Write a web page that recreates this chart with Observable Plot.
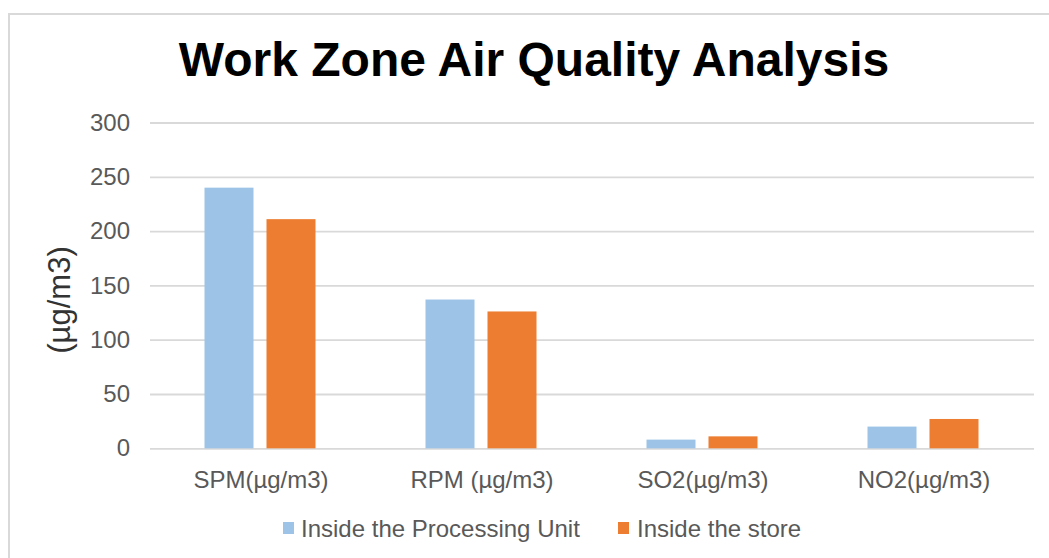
<!DOCTYPE html>
<html>
<head>
<meta charset="utf-8">
<script src="https://cdn.jsdelivr.net/npm/d3@7"></script>
<script src="https://cdn.jsdelivr.net/npm/@observablehq/plot@0.6"></script>
<style>
  html, body { margin: 0; padding: 0; background: #fff; overflow: hidden; }
  body { width: 1049px; height: 558px; position: relative; font-family: "Liberation Sans", Arial, sans-serif; }
  #frame { position: absolute; left: 8px; top: 13px; width: 1200px; height: 700px;
           border-top: 2px solid #d9d9d9; border-left: 2px solid #d9d9d9; box-sizing: border-box; }
  #title { position: absolute; left: 0; width: 1068px; top: 36px; text-align: center;
           font-size: 48px; line-height: 48px; font-weight: bold; color: #000; white-space: nowrap; }
  #ylabel { position: absolute; left: 59px; top: 300px; transform: translate(-50%, -50%) rotate(-90deg);
            font-size: 31px; line-height: 31px; color: #333; white-space: nowrap; }
  #chart { position: absolute; left: 0; top: 100px; }
  #legend { position: absolute; top: 517px; left: 0; width: 1049px; height: 24px; font-size: 24px; line-height: 24px; color: #595959; }
  .item { position: absolute; top: 0; white-space: nowrap; }
  .sw { position: absolute; top: 5px; width: 11px; height: 12px; }
</style>
</head>
<body>
<div id="frame"></div>
<div id="title">Work Zone Air Quality Analysis</div>
<div id="ylabel">(µg/m3)</div>
<div id="chart"></div>
<div id="legend"></div>
<script>
const categories = ["SPM(µg/m3)", "RPM (µg/m3)", "SO2(µg/m3)", "NO2(µg/m3)"];
const seriesNames = ["Inside the Processing Unit", "Inside the store"];
const processingUnit = [240, 137, 8, 20];
const store = [211, 126, 11, 27];
const yTicks = [0, 50, 100, 150, 200, 250, 300];
const colors = ["#9DC3E6", "#ED7D31"];

const data = [];
categories.forEach((c, i) => {
  data.push({category: c, series: seriesNames[0], value: processingUnit[i]});
  data.push({category: c, series: seriesNames[1], value: store[i]});
});

const chart = Plot.plot({
  width: 1049,
  height: 400,
  marginTop: 22.5,
  marginBottom: 51.7,
  marginLeft: 148.5,
  marginRight: 14.5,
  fx: {domain: categories, padding: 0, label: null},
  x: {domain: seriesNames, paddingInner: 0.206, paddingOuter: 0.861, axis: null},
  y: {domain: [0, 300], label: null},
  color: {domain: seriesNames, range: colors},
  style: {fontFamily: '"Liberation Sans", Arial, sans-serif', color: "#595959", background: "transparent", overflow: "visible"},
  marks: [
    Plot.gridY(yTicks, {stroke: "#d9d9d9", strokeOpacity: 1, strokeWidth: 1.8}),
    Plot.barY(data, {fx: "category", x: "series", y: "value", fill: "series"}),
    Plot.axisY({ticks: yTicks, tickSize: 0, tickPadding: 20.5, fontSize: 24, label: null}),
    Plot.axisFx({anchor: "bottom", tickSize: 0, tickPadding: 21.7, fontSize: 24, label: null})
  ]
});
document.getElementById("chart").appendChild(chart);

const legend = document.getElementById("legend");
const legendX = [{sw: 283, tx: 301}, {sw: 618, tx: 637}];
seriesNames.forEach((s, i) => {
  const sw = document.createElement("div");
  sw.className = "sw";
  sw.style.left = legendX[i].sw + "px";
  sw.style.background = colors[i];
  legend.appendChild(sw);
  const t = document.createElement("div");
  t.className = "item";
  t.style.left = legendX[i].tx + "px";
  t.textContent = s;
  legend.appendChild(t);
});
</script>
</body>
</html>
